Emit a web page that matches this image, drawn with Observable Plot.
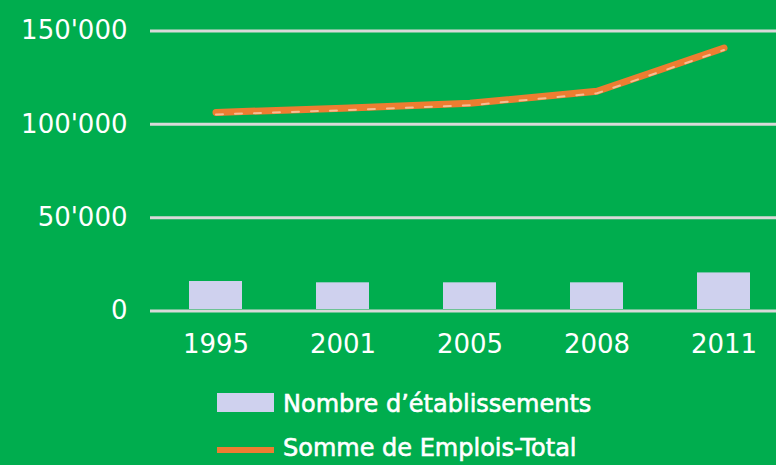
<!DOCTYPE html>
<html>
<head>
<meta charset="utf-8">
<script src="https://cdn.jsdelivr.net/npm/d3@7"></script>
<script src="https://cdn.jsdelivr.net/npm/@observablehq/plot@0.6"></script>
<style>
  html, body { margin: 0; padding: 0; background: #00AD4E; }
  #wrap { position: relative; width: 776px; height: 465px; overflow: hidden; background: #00AD4E; }
  #chart svg { display: block; }
  #legend { position: absolute; left: 0; top: 375px; }
</style>
</head>
<body>
<div id="wrap">
  <div id="chart"></div>
  <svg id="legend" width="776" height="90"></svg>
</div>
<script>
const years = ["1995", "2001", "2005", "2008", "2011"];
const etablissements = [15800, 15100, 15100, 15100, 20400];
const emplois = [106400, 108600, 111300, 117700, 140900];
const yTicks = [0, 50000, 100000, 150000];
const seriesNames = ["Nombre d\u2019\u00e9tablissements", "Somme de Emplois-Total"];

const green = "#00AD4E";
const barColor = "#CFD1EE";
const lineColor = "#ED7D31";
const gridColor = "#D9D9D9";
const font = "DejaVu Sans, sans-serif";

const data = years.map((y, i) => ({year: y, etab: etablissements[i], emplois: emplois[i]}));
const fmt = d => d3.format(",")(d).replace(/,/g, "'");

const chart = Plot.plot({
  width: 776,
  height: 375,
  marginLeft: 150,
  marginRight: 0,
  marginTop: 30.5,
  marginBottom: 64.5,
  style: {background: green, fontFamily: font, color: "white"},
  x: {type: "band", domain: years, range: [151, 789], paddingInner: 0.58, paddingOuter: 0.29, label: null},
  y: {domain: [0, 150000], label: null},
  marks: [
    Plot.ruleY(yTicks, {stroke: gridColor, strokeWidth: 3}),
    Plot.barY(data, {x: "year", y: "etab", fill: barColor, insetBottom: 1.5}),
    Plot.line(data, {x: "year", y: "emplois", stroke: lineColor, strokeWidth: 7, strokeLinecap: "round", strokeLinejoin: "round"}),
    Plot.line(data, {x: "year", y: "emplois", stroke: "#F7BE94", strokeWidth: 2, strokeDasharray: "7 12", dy: 2}),
    Plot.axisY({ticks: yTicks, tickFormat: fmt, tickSize: 0, tickPadding: 23, fontSize: 26, fill: "white", stroke: "white", strokeWidth: 0.7, textAnchor: "end", label: null}),
    Plot.axisX({tickSize: 0, tickPadding: 24, fontSize: 26, fill: "white", stroke: "white", strokeWidth: 0.7, label: null})
  ]
});
document.getElementById("chart").append(chart);

// legend
const lg = d3.select("#legend");
const row1 = lg.append("g");
row1.append("rect").attr("x", 217).attr("y", 18).attr("width", 57).attr("height", 19).attr("fill", barColor);
row1.append("text").attr("x", 283).attr("y", 37).attr("fill", "white").attr("stroke", "white").attr("stroke-width", 0.6)
  .attr("font-family", font).attr("font-size", 24).text(seriesNames[0]);
const row2 = lg.append("g");
row2.append("line").attr("x1", 217).attr("x2", 274).attr("y1", 75).attr("y2", 75).attr("stroke", lineColor).attr("stroke-width", 6);
row2.append("text").attr("x", 283).attr("y", 81).attr("fill", "white").attr("stroke", "white").attr("stroke-width", 0.6)
  .attr("font-family", font).attr("font-size", 24).text(seriesNames[1]);
</script>
</body>
</html>
